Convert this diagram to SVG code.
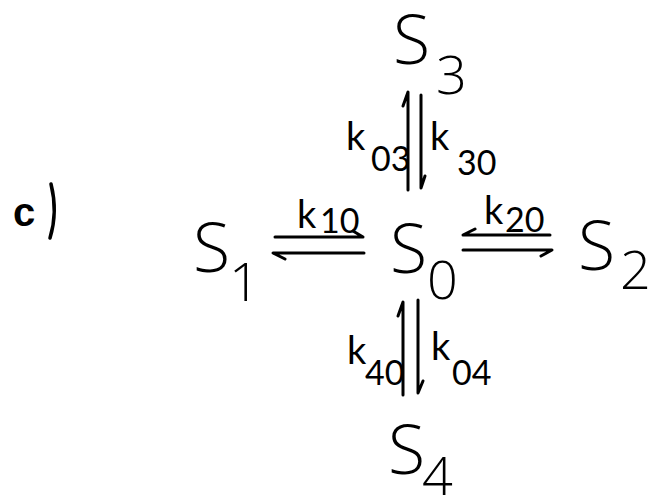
<svg xmlns="http://www.w3.org/2000/svg" width="658" height="499" viewBox="0 0 658 499">
<style>
.S{font-family:"Open Sans",Lato,"DejaVu Sans",sans-serif;font-weight:300;font-size:68px;fill:#000}
.sub{font-family:"Open Sans",Lato,"DejaVu Sans",sans-serif;font-weight:300;font-size:54px;fill:#000}
.k{font-family:Lato,"DejaVu Sans",sans-serif;font-weight:400;font-size:38px;fill:#000}
.kd{font-family:Lato,"DejaVu Sans",sans-serif;font-weight:400;font-size:34px;fill:#000}
.ln{stroke:#000;stroke-width:3;fill:none;stroke-linecap:round;stroke-linejoin:round}
</style>
<rect width="658" height="499" fill="#fff"/>
<g id="label">
<text x="13" y="226" style="font-family:'Liberation Sans',sans-serif;font-weight:bold;font-size:40px">c</text>
<path class="ln" d="M51,184 Q58,212 50,238" style="stroke-width:3.5"/>
</g>
<g id="S3"><text class="S" x="393" y="64">S</text><text class="sub" x="436" y="94">3</text></g>
<g id="S0"><text class="S" x="390" y="273">S</text><text class="sub" x="427" y="299">0</text></g>
<g id="S1"><text class="S" x="193" y="272">S</text><text class="sub" x="229" y="301">1</text></g>
<g id="S2"><text class="S" x="578" y="270">S</text><text class="sub" x="620" y="289">2</text></g>
<g id="S4"><text class="S" x="388" y="474">S</text><text class="sub" x="422" y="495">4</text></g>
<g id="connectors">
<path class="ln" d="M408,190 L408,92 L403,106"/>
<path class="ln" d="M421,95 L421,188 L425,176"/>
<path class="ln" d="M275,237 L363,237 L353,231"/>
<path class="ln" d="M364,253 L273,253 L285,259"/>
<path class="ln" d="M550,235 L463,235 L475,229"/>
<path class="ln" d="M463,250 L552,250 L541,256"/>
<path class="ln" d="M403,395 L403,302 L398,316"/>
<path class="ln" d="M418,300 L418,393 L423,381"/>
</g>
<g id="rates">
<text class="k" x="346" y="150">k</text><text class="kd" x="371" y="171">03</text>
<text class="k" x="430" y="150">k</text><text class="kd" x="457" y="175">30</text>
<text class="k" x="297" y="228">k</text><text class="kd" x="320" y="233">10</text>
<text class="k" x="484" y="224">k</text><text class="kd" x="505" y="232">20</text>
<text class="k" x="347" y="364">k</text><text class="kd" x="365" y="385">40</text>
<text class="k" x="431" y="360">k</text><text class="kd" x="452" y="385">04</text>
</g>
</svg>
